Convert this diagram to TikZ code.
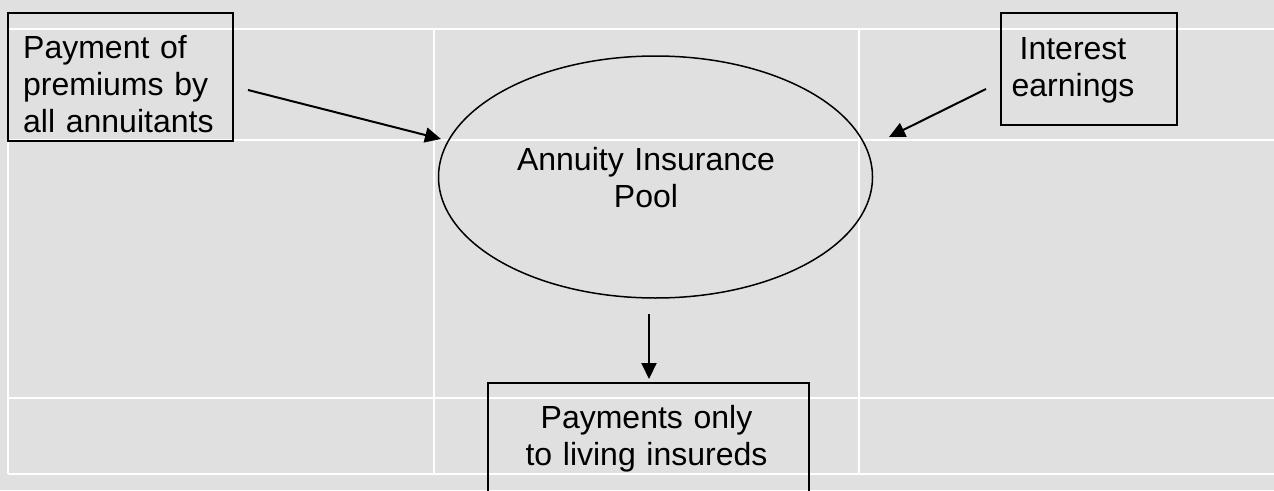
\documentclass[tikz,border=0pt]{standalone}
\usepackage{fontspec}
\setmainfont{Liberation Sans}
\usetikzlibrary{arrows.meta,shapes.geometric}
\definecolor{bg}{HTML}{E0E0E0}
\begin{document}
\begin{tikzpicture}[x=1pt,y=-1pt,
  gridline/.style={white, line width=2pt},
  boxshape/.style={draw=black, line width=2pt, rectangle, inner sep=0pt},
  txt/.style={inner sep=0pt, anchor=base, text width=#1, font=\fontsize{32}{37}\selectfont},
  arr/.style={-{Triangle[length=16pt,width=15pt]}, line width=2pt}
]
\useasboundingbox (0,0) rectangle (1274,490);
\clip (0,0) rectangle (1274,490);
\fill[bg] (0,0) rectangle (1274,490);
% table grid
\draw[gridline] (8,29) -- (1274,29);
\draw[gridline] (8,140) -- (1274,140);
\draw[gridline] (8,398) -- (1274,398);
\draw[gridline] (8,474) -- (1274,474);
\draw[gridline] (8,29) -- (8,474);
\draw[gridline] (434,29) -- (434,474);
\draw[gridline] (859,29) -- (859,474);
% boxes
\node[boxshape, minimum width=225pt, minimum height=128pt] (pay) at (120.5,77) {};
\node[txt=200pt, align=left, anchor=base west] (paytxt) at (23,58) {Payment of\\premiums by\\all annuitants};
\node[boxshape, minimum width=176pt, minimum height=112pt] (int) at (1089,69) {};
\node[txt=170pt, align=center] (inttxt) at (1073,59) {Interest\\earnings};
\node[draw=black, ellipse, line width=1.5pt, inner sep=0pt, minimum width=434pt, minimum height=242pt] (pool) at (655.5,177) {};
\node[txt=320pt, align=center] (pooltxt) at (646,170) {Annuity Insurance\\Pool};
\node[boxshape, minimum width=321pt, minimum height=137pt] (out) at (648.5,451.5) {};
\node[txt=320pt, align=center] (outtxt) at (646.5,428) {Payments only\\to living insureds};
% arrows
\coordinate (a1s) at (248,90);
\coordinate (a1e) at (441,139);
\coordinate (a2s) at (986,89);
\coordinate (a2e) at (889,137);
\coordinate (a3s) at (649,314);
\coordinate (a3e) at (649,379);
\draw[arr] (a1s) -- (a1e);
\draw[arr] (a2s) -- (a2e);
\draw[arr] (a3s) -- (a3e);
\end{tikzpicture}
\end{document}
